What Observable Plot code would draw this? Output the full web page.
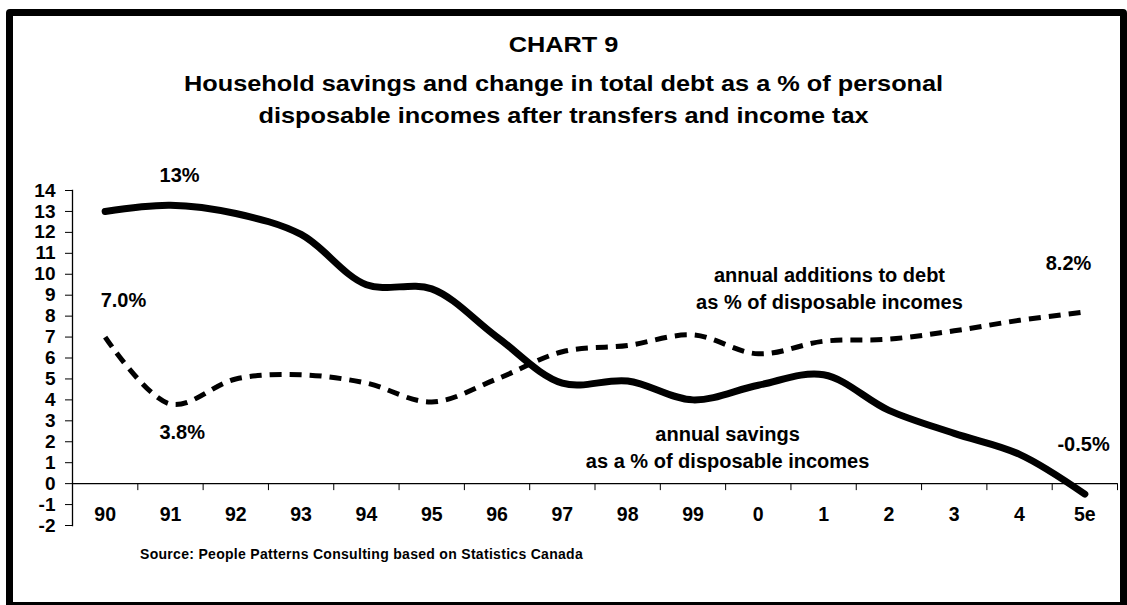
<!DOCTYPE html>
<html>
<head>
<meta charset="utf-8">
<script src="https://cdn.jsdelivr.net/npm/d3@7"></script>
<script src="https://cdn.jsdelivr.net/npm/@observablehq/plot@0.6"></script>
<style>
  html, body { margin: 0; padding: 0; background: #fff; }
  body { font-family: "Liberation Sans", Arial, sans-serif; font-weight: bold; color: #000; }
  #page { position: relative; width: 1127px; height: 605px; overflow: hidden; }
  #frame { position: absolute; left: 6px; top: 9px; width: 1121px; height: 600px; border: 7px solid #000; box-sizing: border-box; border-radius: 4px; }
  #title { position: absolute; left: 0; width: 1127px; top: 29px; text-align: center; font-size: 22px; line-height: 32px; transform: scaleX(1.15); transform-origin: 563px 0; }
  #title .t1 { margin-bottom: 7px; }
  #chart { position: absolute; left: 0; top: 160px; }
  #source { position: absolute; left: 140px; top: 546px; font-size: 14px; letter-spacing: 0.3px; }
</style>
</head>
<body>
<div id="page">
  <div id="frame"></div>
  <div id="title">
    <div class="t1">CHART 9</div>
    <div>Household savings and change in total debt as a % of personal</div>
    <div>disposable incomes after transfers and income tax</div>
  </div>
  <div id="chart"></div>
  <div id="source">Source: People Patterns Consulting based on Statistics Canada</div>
</div>
<script>
// ---- data ----
const years = ["90","91","92","93","94","95","96","97","98","99","0","1","2","3","4","5e"];
const savings = [13.0, 13.3, 12.9, 11.9, 9.5, 9.3, 7.0, 4.8, 4.9, 4.0, 4.7, 5.2, 3.5, 2.4, 1.4, -0.5];
const debt = [7.0, 3.8, 5.0, 5.2, 4.8, 3.9, 5.0, 6.3, 6.6, 7.1, 6.2, 6.8, 6.9, 7.3, 7.8, 8.2];
const yTicks = [-2,-1,0,1,2,3,4,5,6,7,8,9,10,11,12,13,14];
const valueLabels = [
  {text: "13%", x: 1.14, y: 14.7},
  {text: "7.0%", x: 0.28, y: 8.74},
  {text: "3.8%", x: 1.18, y: 2.44},
  {text: "8.2%", x: 14.75, y: 10.5},
  {text: "-0.5%", x: 14.98, y: 1.86}
];
const seriesLabels = [
  {text: "annual additions to debt\nas % of disposable incomes", x: 11.09, y: 9.38},
  {text: "annual savings\nas a % of disposable incomes", x: 9.53, y: 1.81}
];

const idx = years.map((_, i) => i);
const savingsData = idx.map(i => ({i, v: savings[i]}));
const debtData = idx.map(i => ({i, v: debt[i]}));
const boundaries = idx.map(i => i + 0.5);

const W = 1127, H = 380, mt = 30, mb = 15, ml = 72, mr = 10;
const yDomain = [yTicks[0], yTicks[yTicks.length - 1]];
const plotH = H - mt - mb;
// pixel distance from the frame bottom (y = -2) up to the zero line
const zeroShift = plotH * (0 - yDomain[0]) / (yDomain[1] - yDomain[0]);

const chart = Plot.plot({
  width: W, height: H,
  marginTop: mt, marginBottom: mb, marginLeft: ml, marginRight: mr,
  style: {fontFamily: "'Liberation Sans', Arial, sans-serif", fontWeight: "bold", color: "#000", background: "transparent", overflow: "visible"},
  x: {type: "linear", domain: [-0.5, years.length - 0.5]},
  y: {type: "linear", domain: yDomain},
  marks: [
    Plot.ruleY([0], {stroke: "#000", strokeWidth: 1.3}),
    Plot.frame({anchor: "left", stroke: "#000", strokeWidth: 1.3}),
    Plot.axisY(yTicks, {anchor: "left", tickSize: 7, tickPadding: 10, tickFormat: d => String(d), fontSize: 19, fontWeight: "bold", label: null, stroke: "#000"}),
    Plot.axisX(boundaries, {anchor: "bottom", tickSize: 7, tickFormat: () => "", dy: -zeroShift, label: null, stroke: "#000"}),
    Plot.axisX(idx, {anchor: "bottom", tickSize: 0, tickFormat: i => years[i], dy: -27, fontSize: 19.5, fontWeight: "bold", label: null}),
    Plot.line(debtData, {x: "i", y: "v", curve: "catmull-rom", stroke: "#000", strokeWidth: 5, strokeDasharray: "12,8", strokeLinecap: "butt"}),
    Plot.line(savingsData, {x: "i", y: "v", curve: "catmull-rom", stroke: "#000", strokeWidth: 7, strokeLinecap: "round", strokeLinejoin: "round"}),
    Plot.text(valueLabels, {x: "x", y: "y", text: "text", fontSize: 20, fontWeight: "bold", fill: "#000"}),
    Plot.text(seriesLabels, {x: "x", y: "y", text: "text", fontSize: 20, fontWeight: "bold", fill: "#000", lineHeight: 1.35})
  ]
});
document.getElementById("chart").appendChild(chart);
</script>
</body>
</html>
